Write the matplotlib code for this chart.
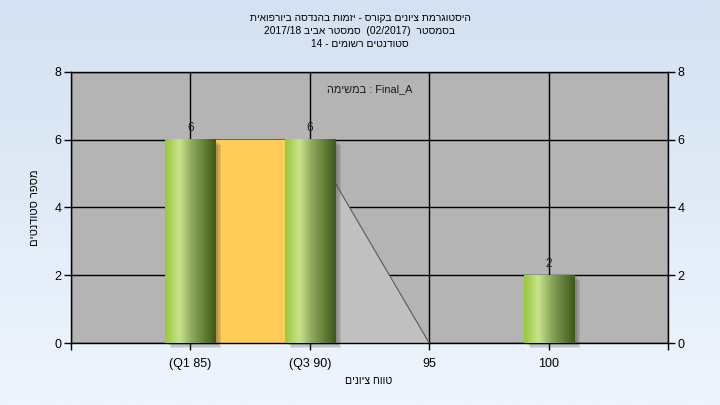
import re
import numpy as np
import matplotlib
matplotlib.use('Agg')
import matplotlib.pyplot as plt
from matplotlib.colors import LinearSegmentedColormap
from matplotlib.patches import Rectangle
import matplotlib.transforms as mtransforms

plt.rcParams['font.family'] = ['Liberation Sans', 'DejaVu Sans']


def rtl(s):
    # matplotlib has no bidi support: put hebrew in visual order
    r = s[::-1]
    r = re.sub(r'[A-Za-z0-9_/.]+', lambda m: m.group(0)[::-1], r)
    return r.translate(str.maketrans('()', ')('))


title_lines = ['היסטוגרמת ציונים בקורס - יזמות בהנדסה ביורפואית',
               'בסמסטר  (02/2017)  סמסטר אביב 2017/18',
               'סטודנטים רשומים - 14']
task_label = 'Final_A : במשימה'
xlabel = 'טווח ציונים'
ylabel = 'מספר סטודנטים'

categories = ['(Q1 85)', '(Q3 90)', '95', '100']
counts = [6, 6, 0, 2]
area_vals = [6, 6, 0, 0]
q1_idx, q3_idx = 0, 1
yticks = [0, 2, 4, 6, 8]

fig = plt.figure(figsize=(7.2, 4.05), dpi=100)

# background gradient
bg = fig.add_axes([0, 0, 1, 1], zorder=-10)
bg_cmap = LinearSegmentedColormap.from_list('bg', ['#d4e1f2', '#eef5fd'])
bg.imshow(np.linspace(0, 1, 256).reshape(-1, 1), aspect='auto', cmap=bg_cmap,
          extent=[0, 1, 0, 1], origin='upper')
bg.axis('off')

ax = fig.add_axes([71 / 720, 62 / 405, 597 / 720, 271 / 405])
ax.set_facecolor('#b4b4b4')
ax.set_axisbelow(True)

x = np.arange(1, len(categories) + 1)
w = 0.42

# grey area series behind the bars
ax.fill_between(x, area_vals, 0, color='#c0c0c0', zorder=1.5, lw=0)
ax.plot(x[:3], area_vals[:3], color='#5a5a5a', lw=0.8, zorder=1.6)
ax.plot(x[2:], area_vals[2:], color='#8c8c8c', lw=0.8, zorder=1.6)

# interquartile box
ax.bar(x[q1_idx] + w / 2, counts[q1_idx], width=(x[q3_idx] - x[q1_idx]) - w,
       align='edge', color='#ffcc58', zorder=2)

bar_cmap = LinearSegmentedColormap.from_list(
    'cyl', [(0, '#98c83a'), (0.28, '#c8e38e'), (0.55, '#8aa45a'), (1, '#3e5818')])
grad = np.linspace(0, 1, 128).reshape(1, -1)
for xi, v in zip(x, counts):
    if v == 0:
        continue
    for dx, dy, a in [(6, -5, 0.12), (5, -4, 0.15), (3, -2, 0.2)]:
        tr = mtransforms.offset_copy(ax.transData, fig=fig, x=dx, y=dy, units='dots')
        ax.add_patch(Rectangle((xi - w / 2, 0), w, v, color='#404040', alpha=a,
                               lw=0, transform=tr, zorder=2.5, clip_on=False))
    ax.imshow(grad, extent=[xi - w / 2, xi + w / 2, 0, v], aspect='auto',
              cmap=bar_cmap, zorder=3, interpolation='bilinear')
    ax.annotate(str(v), (xi, v), xytext=(0, 4), textcoords='offset points',
                ha='center', va='bottom', fontsize=8.5, color='#222222', zorder=5)

ax.set_xlim(0, 5)
ax.set_ylim(0, 8)
ax.set_xticks([0] + list(x) + [5])
ax.set_xticklabels([''] + categories + [''])
ax.set_yticks(yticks)
ax.tick_params(axis='both', direction='out', length=5, width=1, color='black',
               labelsize=9, pad=2)
ax.tick_params(axis='y', right=True, labelright=True)
ax.tick_params(axis='x', pad=6)
ax.grid(True, color='black', lw=1)
for s in ax.spines.values():
    s.set_color('black')
    s.set_linewidth(1)

ax.text(0.5, 0.955, rtl(task_label), transform=ax.transAxes, ha='center', va='top',
        fontsize=7.8, color='#1a1a1a', zorder=6)

for i, t in enumerate(title_lines):
    fig.text(0.5, 1 - (18 + 13 * i) / 405, rtl(t), ha='center', va='center',
             fontsize=7.4)
fig.text(369 / 720, 1 - 381 / 405, rtl(xlabel), ha='center', va='center', fontsize=7.6)
fig.text(35 / 720, 1 - 208 / 405, rtl(ylabel), ha='center', va='center',
         rotation=90, fontsize=8)

fig.savefig('out.png', dpi=100)
